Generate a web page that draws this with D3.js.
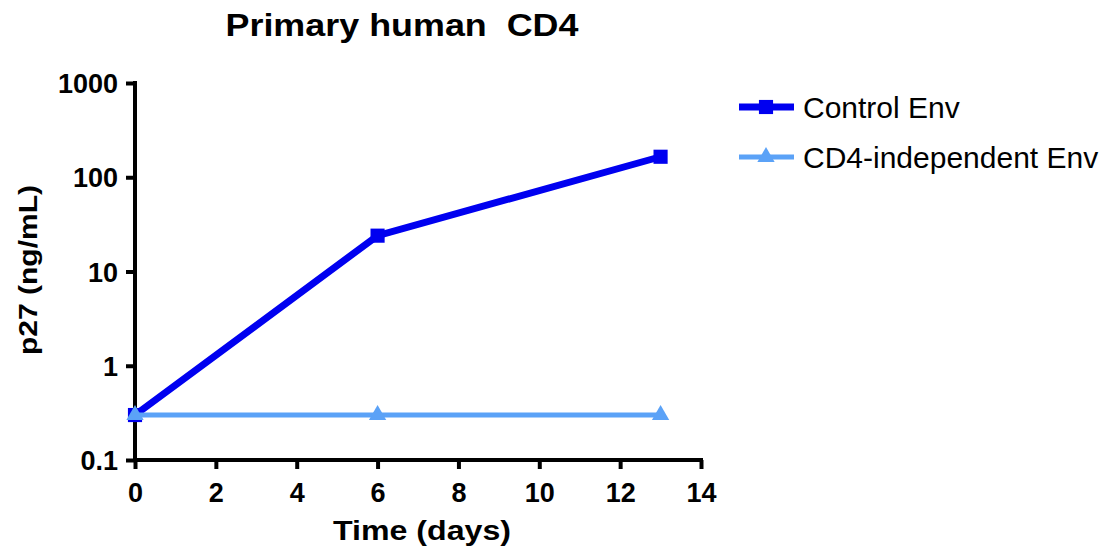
<!DOCTYPE html>
<html>
<head>
<meta charset="utf-8">
<script src="https://cdn.jsdelivr.net/npm/d3@7"></script>
<style>
  html, body { margin: 0; padding: 0; background: #fff; }
  svg { display: block; font-family: "Liberation Sans", Arial, sans-serif; }
</style>
</head>
<body>
<svg id="chart" width="1116" height="550"></svg>
<script>
// p27 production over time in primary human CD4 cells
const days = [0, 6, 13];
const controlEnv = [0.3, 24, 165];
const cd4IndependentEnv = [0.3, 0.3, 0.3];
const seriesNames = ["Control Env", "CD4-independent Env"];
const xTicks = [0, 2, 4, 6, 8, 10, 12, 14];
const yTicks = [0.1, 1, 10, 100, 1000];
const yTickLabels = ["0.1", "1", "10", "100", "1000"];

const series = [
  { name: seriesNames[0], values: controlEnv, color: "#0000f0", width: 7, symbol: d3.symbolSquare, size: 200 },
  { name: seriesNames[1], values: cd4IndependentEnv, color: "#5ba2f7", width: 5, symbol: d3.symbolTriangle, size: 130 }
];

const svg = d3.select("#chart");
const x = d3.scaleLinear().domain([0, 14]).range([135, 701]);
const y = d3.scaleLog().domain([0.1, 1000]).range([460, 83]);

// Title
svg.append("text")
  .attr("x", 402).attr("y", 36)
  .attr("text-anchor", "middle")
  .attr("font-size", 32).attr("font-weight", "bold")
  .attr("textLength", 353).attr("lengthAdjust", "spacingAndGlyphs")
  .style("white-space", "pre")
  .text("Primary human  CD4");

// Axes
const xAxis = svg.append("g")
  .attr("transform", `translate(0,${y(0.1)})`)
  .call(d3.axisBottom(x).tickValues(xTicks).tickSize(9).tickPadding(14).tickSizeOuter(0));
const yAxis = svg.append("g")
  .attr("transform", `translate(${x(0)},0)`)
  .call(d3.axisLeft(y).tickValues(yTicks).tickFormat((d, i) => yTickLabels[i]).tickSize(9).tickPadding(8).tickSizeOuter(0));

[xAxis, yAxis].forEach(g => {
  g.select(".domain").attr("stroke", "#000").attr("stroke-width", 4);
  g.selectAll(".tick line").attr("stroke", "#000").attr("stroke-width", 4);
  g.selectAll(".tick text")
    .attr("fill", "#000")
    .attr("font-size", 27)
    .attr("font-weight", "bold")
    .attr("font-family", "Liberation Sans, Arial, sans-serif");
});
yAxis.selectAll(".tick text").attr("dy", "0.36em");
// extend axis lines so the corner is closed
xAxis.select(".domain").attr("d", `M${x(0) - 2},0H${x(14) + 2}`);
yAxis.select(".domain").attr("d", `M0,${y(1000) - 2}V${y(0.1) + 2}`);

// Axis titles
svg.append("text")
  .attr("x", 422).attr("y", 540)
  .attr("text-anchor", "middle")
  .attr("font-size", 27).attr("font-weight", "bold")
  .attr("textLength", 178).attr("lengthAdjust", "spacingAndGlyphs")
  .text("Time (days)");
svg.append("text")
  .attr("transform", "translate(37,270) rotate(-90)")
  .attr("text-anchor", "middle")
  .attr("font-size", 25).attr("font-weight", "bold")
  .attr("textLength", 170).attr("lengthAdjust", "spacingAndGlyphs")
  .text("p27 (ng/mL)");

// Lines and markers: control drawn first, CD4-independent series on top
const line = d3.line().x((d, i) => x(days[i])).y(d => y(d));
series.forEach(s => {
  svg.append("path")
    .attr("d", line(s.values))
    .attr("fill", "none")
    .attr("stroke", s.color)
    .attr("stroke-width", s.width);
  svg.selectAll(null)
    .data(s.values)
    .enter().append("path")
    .attr("transform", (d, i) => `translate(${x(days[i])},${y(d)})`)
    .attr("d", d3.symbol().type(s.symbol).size(s.size))
    .attr("fill", s.color);
});

// Legend
const legend = svg.append("g");
series.forEach((s, i) => {
  const ly = 107 + i * 50;
  legend.append("line")
    .attr("x1", 739).attr("x2", 794)
    .attr("y1", ly).attr("y2", ly)
    .attr("stroke", s.color).attr("stroke-width", s.width);
  legend.append("path")
    .attr("transform", `translate(766,${ly})`)
    .attr("d", d3.symbol().type(s.symbol).size(s.size))
    .attr("fill", s.color);
  legend.append("text")
    .attr("x", 803).attr("y", ly + 11)
    .attr("font-size", 30)
    .text(s.name);
});
</script>
</body>
</html>
